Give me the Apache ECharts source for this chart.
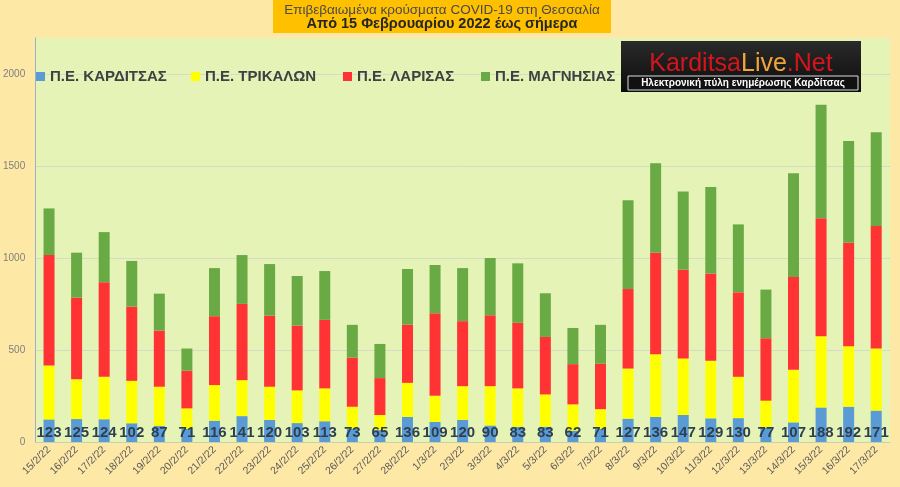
<!DOCTYPE html>
<html>
<head>
<meta charset="utf-8">
<script src="https://cdn.jsdelivr.net/npm/echarts@6/dist/echarts.min.js"></script>
<style>
html,body{margin:0;padding:0;background:#fee8a6;}
#c{width:900px;height:487px;}
</style>
</head>
<body>
<div id="c"></div>
<script>
var categories = ['15/2/22','16/2/22','17/2/22','18/2/22','19/2/22','20/2/22','21/2/22','22/2/22','23/2/22','24/2/22','25/2/22','26/2/22','27/2/22','28/2/22','1/3/22','2/3/22','3/3/22','4/3/22','5/3/22','6/3/22','7/3/22','8/3/22','9/3/22','10/3/22','11/3/22','12/3/22','13/3/22','14/3/22','15/3/22','16/3/22','17/3/22'];
var karditsa = [123,125,124,102,87,71,116,141,120,103,113,73,65,136,109,120,90,83,83,62,71,127,136,147,129,130,77,107,188,192,171];
var trikala  = [294,217,231,231,214,112,194,196,181,178,179,119,82,186,143,184,214,209,176,143,108,273,342,308,313,225,148,286,388,330,338];
var larisa   = [601,444,515,404,306,205,375,415,387,353,373,268,201,317,449,354,386,357,313,219,247,433,553,483,476,460,340,506,643,563,667];
var magnisia = [254,245,273,249,201,121,262,266,281,270,266,178,186,303,263,289,312,324,238,197,212,484,487,426,471,370,265,565,618,554,511];
var seriesNames = ['Π.Ε. ΚΑΡΔΙΤΣΑΣ','Π.Ε. ΤΡΙΚΑΛΩΝ','Π.Ε. ΛΑΡΙΣΑΣ','Π.Ε. ΜΑΓΝΗΣΙΑΣ'];
var titleLine1 = 'Επιβεβαιωμένα κρούσματα COVID-19 στη Θεσσαλία';
var titleLine2 = 'Από 15 Φεβρουαρίου 2022 έως σήμερα';

var colors = ['#5b9bd5','#ffff00','#ff3333','#6aaa45'];
var sans = "'Liberation Sans',sans-serif";

var chart = echarts.init(document.getElementById('c'));
var legendLefts = [36, 191, 343, 481];
var legends = seriesNames.map(function(n,i){
  return {
    data:[n], left: legendLefts[i], top: 69, padding:0, icon:'rect', itemWidth:9, itemHeight:9,
    textStyle:{fontFamily:sans, fontSize:15, fontWeight:'bold', color:'#404040'}
  };
});
function mk(name, data, idx, withLabel){
  var s = {
    name:name, type:'bar', stack:'total', data:data, barWidth:11,
    itemStyle:{color:colors[idx]}
  };
  if (withLabel) {
    s.label = {show:true, position:'insideBottom', distance:2, fontFamily:sans,
      fontSize:15, fontWeight:'bold', color:'#2e3f52'};
  }
  return s;
}
chart.setOption({
  backgroundColor:'#fee8a6',
  animation:false,
  legend: legends,
  grid:{left:34, right:10, top:38, bottom:45, show:true, backgroundColor:'#e5f4b6', borderWidth:0},
  xAxis:{type:'category', data:categories, boundaryGap:true,
    axisLine:{show:true, lineStyle:{color:'#c8d0b0'}}, axisTick:{show:false},
    axisLabel:{rotate:45, fontSize:10.5, color:'#595959', margin:6, interval:0, fontFamily:sans}},
  yAxis:{type:'value', min:0, max:2200, interval:500,
    axisLine:{show:true, lineStyle:{color:'#9fb0c4'}}, axisTick:{show:false},
    axisLabel:{fontSize:10, color:'#7f7f7f', margin:10, fontFamily:sans,
      formatter:function(v){return v%500===0? String(v):'';}},
    splitLine:{show:true, lineStyle:{color:['#d4dcc4','#d4dcc4','#d4dcc4','#d4dcc4','#d4dcc4','rgba(0,0,0,0)']}}},
  series:[
    mk(seriesNames[0], karditsa, 0, true),
    mk(seriesNames[1], trikala, 1, false),
    mk(seriesNames[2], larisa, 2, false),
    mk(seriesNames[3], magnisia, 3, false)
  ],
  graphic:[
    {type:'rect', shape:{x:273,y:0,width:338,height:33}, style:{fill:'#ffc000'}, z:10},
    {type:'text', x:442, y:10, z:11, style:{text:titleLine1, textAlign:'center', textVerticalAlign:'middle',
      font:"13.5px "+sans, fill:'#4a4a4a'}},
    {type:'text', x:442, y:24, z:11, style:{text:titleLine2, textAlign:'center', textVerticalAlign:'middle',
      font:"bold 14.5px "+sans, fill:'#262626'}},
    {type:'rect', shape:{x:621,y:41,width:240,height:51}, z:10,
      style:{fill:new echarts.graphic.LinearGradient(0,0,0,1,[{offset:0,color:'#2a2a2a'},{offset:1,color:'#0c0c0c'}])}},
    {type:'text', x:741, y:64, z:11, style:{
      text:'{a|Karditsa}{b|Live}{a|.Net}', textAlign:'center', textVerticalAlign:'middle',
      rich:{a:{fontSize:25, fontFamily:sans, fill:'#d4161c', color:'#d4161c'},
            b:{fontSize:25, fontFamily:sans, fill:'#f2a43a', color:'#f2a43a'}}}},
    {type:'rect', shape:{x:628,y:76,width:230,height:14}, z:10, style:{fill:'#111', stroke:'#dddddd', lineWidth:1}},
    {type:'text', x:743, y:83, z:11, style:{text:'Ηλεκτρονική πύλη ενημέρωσης Καρδίτσας', textAlign:'center', textVerticalAlign:'middle',
      font:"bold 10px "+sans, fill:'#ffffff'}}
  ]
});
</script>
</body>
</html>
